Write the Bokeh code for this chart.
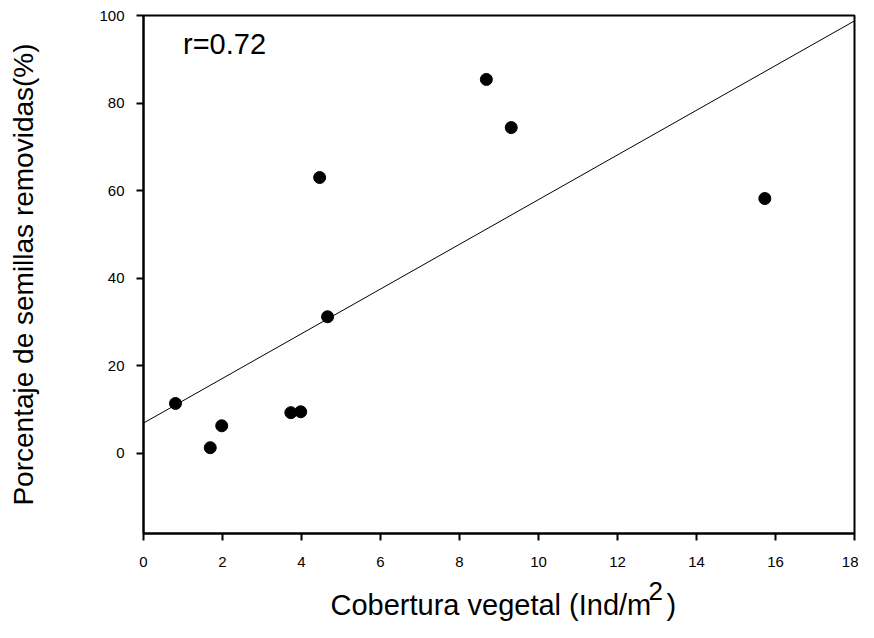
import numpy as np
from bokeh.plotting import figure
from bokeh.layouts import column
from bokeh.models import Range1d, Label, FixedTicker
from bokeh.embed import file_html
from bokeh.resources import INLINE

# Data
cobertura = [0.81, 1.69, 1.98, 3.73, 3.98, 4.46, 4.66, 8.68, 9.31, 15.73]
removidas = [11.4, 1.3, 6.3, 9.3, 9.5, 63.0, 31.2, 85.4, 74.4, 58.2]
x_ticks = [0, 2, 4, 6, 8, 10, 12, 14, 16, 18]
y_ticks = [0, 20, 40, 60, 80, 100]
r_text = "r=0.72"
x_title = "Cobertura vegetal (Ind/m"
x_title_exp = "2"
x_title_end = ")"
y_title = "Porcentaje de semillas removidas(%)"

FONT = "Liberation Sans"
W = 858
LEFT, RIGHT = 143, 4
H1, H2 = 573, 49

p = figure(width=W, height=H1, output_backend="svg", toolbar_location=None,
           x_range=Range1d(0, 18), y_range=Range1d(-18.3, 100),
           min_border_left=LEFT, min_border_right=RIGHT, min_border_top=15,
           min_border_bottom=H1 - 533)
p.background_fill_color = "white"
p.border_fill_color = "white"
p.outline_line_color = "black"
p.outline_line_width = 2
p.xgrid.visible = False
p.ygrid.visible = False

for ax in (p.xaxis[0], p.yaxis[0]):
    ax.axis_line_width = 2
    ax.axis_line_color = "black"
    ax.major_tick_line_width = 2
    ax.major_tick_line_color = "black"
    ax.major_tick_out = 7
    ax.major_tick_in = 0
    ax.minor_tick_line_color = None
    ax.major_label_text_font = FONT
    ax.major_label_text_font_size = "15px"
    ax.major_label_text_color = "black"

p.xaxis.ticker = FixedTicker(ticks=x_ticks)
p.yaxis.ticker = FixedTicker(ticks=y_ticks)
p.xaxis.major_label_standoff = 16
p.yaxis.major_label_standoff = 12

p.yaxis.axis_label = y_title
p.yaxis.axis_label_text_font = FONT
p.yaxis.axis_label_text_font_size = "28px"
p.yaxis.axis_label_text_font_style = "normal"
p.yaxis.axis_label_text_color = "black"
p.yaxis.axis_label_standoff = 57

# regression line computed from the data
slope, intercept = np.polyfit(cobertura, removidas, 1)
lx = np.array([p.x_range.start, p.x_range.end])
p.line(lx, intercept + slope * lx, line_color="black", line_width=1)

p.scatter(cobertura, removidas, size=12, marker="circle",
          fill_color="black", line_color="black")

p.add_layout(Label(x=1.0, y=93.6, text=r_text, text_font=FONT,
                   text_font_size="29px", text_color="black",
                   text_baseline="middle"))

# strip below the chart holding the x-axis title (coordinates = page pixels)
q = figure(width=W, height=H2, output_backend="svg", toolbar_location=None,
           x_range=Range1d(LEFT, W - RIGHT), y_range=Range1d(0, H2),
           min_border_left=LEFT, min_border_right=RIGHT, min_border_top=0,
           min_border_bottom=0, x_axis_location=None, y_axis_location=None)
q.outline_line_color = None
q.xgrid.visible = False
q.ygrid.visible = False
q.background_fill_color = "white"
q.border_fill_color = "white"

mid = 18
q.add_layout(Label(x=330, y=mid, text=x_title, text_font=FONT,
                   text_font_size="29px", text_color="black",
                   text_baseline="middle", text_align="left"))
q.add_layout(Label(x=648, y=mid + 14, text=x_title_exp, text_font=FONT,
                   text_font_size="26px", text_color="black",
                   text_baseline="middle", text_align="left"))
q.add_layout(Label(x=666, y=mid, text=x_title_end, text_font=FONT,
                   text_font_size="29px", text_color="black",
                   text_baseline="middle", text_align="left"))

layout = column(p, q, spacing=0)
open("out.html", "w").write(file_html(layout, INLINE))
